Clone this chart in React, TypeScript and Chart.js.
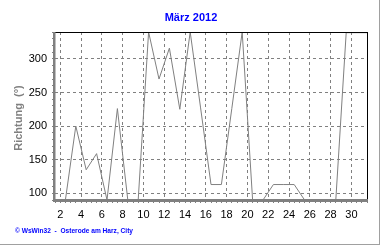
import React, { useEffect, useRef } from "react";
import { Chart, registerables } from "chart.js";

Chart.register(...registerables);

const days = [1.5, 2.5, 3.5, 4.5, 5.5, 6.5, 7.5, 8.5, 9.5, 10.5, 11.5, 12.5, 13.5, 14.5, 15.5, 16.5, 17.5, 18.5, 19.5, 20.5, 21.5, 22.5, 23.5, 24.5, 25.5, 26.5, 27.5, 28.5, 29.5, 30.5, 31.5];
const direction = [90, 90, 200, 135, 159, 90, 226, 90, 90, 340, 270, 316, 225, 340, 227, 113, 113, 226, 340, 90, 90, 113, 113, 113, 90, 90, 90, 90, 339, 339, 339];
const xTickLabels = [2, 4, 6, 8, 10, 12, 14, 16, 18, 20, 22, 24, 26, 28, 30];
const yTickLabels = [100, 150, 200, 250, 300];

const titleText = "März 2012";
const yAxisTitle = "Richtung  (°)";
const footerText = "© WsWin32  -  Osterode am Harz, City";

const FONT = "'Liberation Sans', Arial, sans-serif";

const decorPlugin = {
  id: "decor",
  beforeDraw(chart: any) {
    const { ctx, width, height } = chart;
    ctx.save();
    ctx.fillStyle = "#ffffff";
    ctx.fillRect(0, 0, width, height);
    ctx.restore();
  },
  afterDraw(chart: any) {
    const { ctx, chartArea } = chart;
    const { left, right, top, bottom } = chartArea;
    ctx.save();
    // frame: top & right black
    ctx.fillStyle = "#000000";
    ctx.fillRect(left, top, right - left + 1, 1);
    ctx.fillRect(right, top, 1, bottom - top);
    // thick gray axes
    ctx.fillStyle = "#808080";
    ctx.fillRect(left - 2, top, 2.5, bottom - top + 2);
    ctx.fillRect(left - 2, bottom - 1, right - left + 3, 3);
    // outer edge lines
    ctx.fillStyle = "#a0a0a0";
    ctx.fillRect(379, 0, 1, 245);
    ctx.fillRect(0, 244, 380, 1);
    // title
    ctx.fillStyle = "#0000ff";
    ctx.font = "bold 11px " + FONT;
    ctx.textAlign = "center";
    ctx.textBaseline = "middle";
    ctx.fillText(titleText, 191, 18);
    // y axis title
    ctx.save();
    ctx.translate(19, 118);
    ctx.rotate(-Math.PI / 2);
    ctx.fillStyle = "#808080";
    ctx.font = "bold 11px " + FONT;
    ctx.fillText(yAxisTitle, 0, 0);
    ctx.restore();
    // footer
    ctx.fillStyle = "#0000ff";
    ctx.font = "bold 8px " + FONT;
    ctx.textAlign = "left";
    ctx.fillText(footerText, 15, 231, 118);
    ctx.restore();
  },
};

export default function App() {
  const ref = useRef<HTMLCanvasElement | null>(null);
  useEffect(() => {
    if (!ref.current) return;
    const chart = new Chart(ref.current, {
      type: "line",
      data: {
        datasets: [
          {
            data: days.map((d, i) => ({ x: d, y: direction[i] })),
            borderColor: "#808080",
            borderWidth: 1,
            pointRadius: 0,
            tension: 0,
            fill: false,
          },
        ],
      },
      options: {
        animation: false,
        responsive: false,
        devicePixelRatio: 1,
        layout: { padding: { top: 32, right: 13, left: 0, bottom: 0 } },
        plugins: {
          legend: { display: false },
          title: { display: false },
          tooltip: { enabled: false },
        },
        scales: {
          x: {
            type: "linear",
            min: 1.5,
            max: 31.5,
            afterFit: (s: any) => {
              s.height = 45;
            },
            border: { display: false, dash: [3, 3] },
            grid: {
              color: (c: any) =>
                c.tick && xTickLabels.includes(c.tick.value) ? "#808080" : "rgba(0,0,0,0)",
              tickColor: "#808080",
              tickLength: 3,
              tickBorderDash: [],
              lineWidth: 1,
            } as any,
            ticks: {
              stepSize: 0.5,
              autoSkip: false,
              maxRotation: 0,
              includeBounds: false,
              maxTicksLimit: 200,
              padding: 5,
              color: "#000000",
              font: { family: FONT, size: 11 },
              callback: (v: any) => (xTickLabels.includes(Number(v)) ? String(v) : ""),
            },
          },
          y: {
            min: 90,
            max: 340,
            afterFit: (s: any) => {
              s.width = 55;
            },
            border: { display: false, dash: [3, 3] },
            grid: {
              color: (c: any) =>
                c.tick && yTickLabels.includes(c.tick.value) ? "#808080" : "rgba(0,0,0,0)",
              tickColor: "#808080",
              tickLength: 3,
              tickBorderDash: [],
              lineWidth: 1,
            } as any,
            ticks: {
              stepSize: 10,
              autoSkip: false,
              includeBounds: false,
              maxTicksLimit: 200,
              padding: 5,
              color: "#000000",
              font: { family: FONT, size: 11 },
              callback: (v: any) => (yTickLabels.includes(Number(v)) ? String(v) : ""),
            },
          },
        },
      },
      plugins: [decorPlugin],
    });
    return () => chart.destroy();
  }, []);
  return (
    <div style={{ position: "absolute", left: 0, top: 0, width: 380, height: 245 }}>
      <canvas ref={ref} width={380} height={245} style={{ width: 380, height: 245, display: "block" }} />
    </div>
  );
}
